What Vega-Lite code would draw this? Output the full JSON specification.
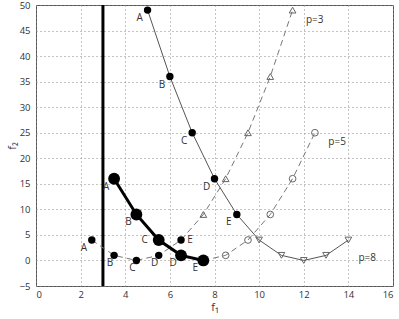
{
  "$schema": "https://vega.github.io/schema/vega-lite/v6.json",
  "width": 357,
  "height": 281,
  "autosize": {"type": "none"},
  "padding": {"left": 36, "top": 5, "right": 6, "bottom": 33},
  "background": "white",
  "config": {
    "view": {"stroke": "#555", "strokeWidth": 1},
    "axis": {
      "domain": false,
      "grid": true,
      "gridDash": [1, 3],
      "gridColor": "#888",
      "gridOpacity": 1,
      "ticks": false,
      "labelFont": "Open Sans",
      "labelFontSize": 9.5,
      "labelColor": "#333",
      "titleFont": "Open Sans",
      "titleFontSize": 11,
      "titleFontWeight": "normal",
      "titleColor": "#334"
    },
    "text": {"font": "Open Sans", "fontSize": 10, "color": "#333"}
  },
  "data": {
    "values": [
      {"s": "p8", "x": 5, "y": 49, "m": "filled", "label": "A"},
      {"s": "p8", "x": 6, "y": 36, "m": "filled", "label": "B"},
      {"s": "p8", "x": 7, "y": 25, "m": "filled", "label": "C"},
      {"s": "p8", "x": 8, "y": 16, "m": "filled", "label": "D"},
      {"s": "p8", "x": 9, "y": 9, "m": "filled", "label": "E"},
      {"s": "p8", "x": 10, "y": 4, "m": "open", "label": ""},
      {"s": "p8", "x": 11, "y": 1, "m": "open", "label": ""},
      {"s": "p8", "x": 12, "y": 0, "m": "open", "label": ""},
      {"s": "p8", "x": 13, "y": 1, "m": "open", "label": ""},
      {"s": "p8", "x": 14, "y": 4, "m": "open", "label": ""},
      {"s": "p3", "x": 2.5, "y": 4, "m": "filled", "label": "A"},
      {"s": "p3", "x": 3.5, "y": 1, "m": "filled", "label": "B"},
      {"s": "p3", "x": 4.5, "y": 0, "m": "filled", "label": "C"},
      {"s": "p3", "x": 5.5, "y": 1, "m": "filled", "label": "D"},
      {"s": "p3", "x": 6.5, "y": 4, "m": "filled", "label": "E"},
      {"s": "p3", "x": 7.5, "y": 9, "m": "open", "label": ""},
      {"s": "p3", "x": 8.5, "y": 16, "m": "open", "label": ""},
      {"s": "p3", "x": 9.5, "y": 25, "m": "open", "label": ""},
      {"s": "p3", "x": 10.5, "y": 36, "m": "open", "label": ""},
      {"s": "p3", "x": 11.5, "y": 49, "m": "open", "label": ""},
      {"s": "p5", "x": 3.5, "y": 16, "m": "big", "label": "A"},
      {"s": "p5", "x": 4.5, "y": 9, "m": "big", "label": "B"},
      {"s": "p5", "x": 5.5, "y": 4, "m": "big", "label": "C"},
      {"s": "p5", "x": 6.5, "y": 1, "m": "big", "label": "D"},
      {"s": "p5", "x": 7.5, "y": 0, "m": "big", "label": "E"},
      {"s": "p5", "x": 8.5, "y": 1, "m": "open", "label": ""},
      {"s": "p5", "x": 9.5, "y": 4, "m": "open", "label": ""},
      {"s": "p5", "x": 10.5, "y": 9, "m": "open", "label": ""},
      {"s": "p5", "x": 11.5, "y": 16, "m": "open", "label": ""},
      {"s": "p5", "x": 12.5, "y": 25, "m": "open", "label": ""}
    ]
  },
  "encoding": {
    "x": {"field": "x", "type": "quantitative", "scale": {"domain": [0, 16], "nice": false}, "axis": {"values": [0, 2, 4, 6, 8, 10, 12, 14, 16], "title": "f₁", "labelPadding": 3, "titlePadding": 3}},
    "y": {"field": "y", "type": "quantitative", "scale": {"domain": [-5, 50], "nice": false, "zero": false}, "axis": {"values": [-5, 0, 5, 10, 15, 20, 25, 30, 35, 40, 45, 50], "title": "f₂", "labelPadding": 6, "titlePadding": 2}}
  },
  "layer": [
    {
      "data": {"values": [{"xv": 3}]},
      "mark": {"type": "rule", "color": "black", "strokeWidth": 3},
      "encoding": {"x": {"field": "xv", "type": "quantitative"}, "y": null}
    },
    {
      "transform": [{"filter": "datum.s == 'p8'"}],
      "mark": {"type": "line", "color": "#555", "strokeWidth": 1}
    },
    {
      "transform": [{"filter": "datum.s == 'p3'"}],
      "mark": {"type": "line", "color": "#777", "strokeWidth": 1, "strokeDash": [6, 4]}
    },
    {
      "transform": [{"filter": "datum.s == 'p5' && datum.x >= 7.5"}],
      "mark": {"type": "line", "color": "#777", "strokeWidth": 1, "strokeDash": [6, 4]}
    },
    {
      "transform": [{"filter": "datum.s == 'p5' && datum.m == 'big'"}],
      "mark": {"type": "line", "color": "black", "strokeWidth": 3}
    },
    {
      "transform": [{"filter": "datum.m == 'filled'"}],
      "mark": {"type": "point", "shape": "circle", "filled": true, "color": "black", "size": 55, "opacity": 1}
    },
    {
      "transform": [{"filter": "datum.m == 'big'"}],
      "mark": {"type": "point", "shape": "circle", "filled": true, "color": "black", "size": 140, "opacity": 1}
    },
    {
      "transform": [{"filter": "datum.m == 'open' && datum.s == 'p3'"}],
      "mark": {"type": "point", "shape": "triangle-up", "filled": false, "color": "#666", "size": 45, "strokeWidth": 1, "opacity": 1}
    },
    {
      "transform": [{"filter": "datum.m == 'open' && datum.s == 'p5'"}],
      "mark": {"type": "point", "shape": "circle", "filled": false, "color": "#666", "size": 45, "strokeWidth": 1, "opacity": 1}
    },
    {
      "transform": [{"filter": "datum.m == 'open' && datum.s == 'p8'"}],
      "mark": {"type": "point", "shape": "triangle-down", "filled": false, "color": "#666", "size": 45, "strokeWidth": 1, "opacity": 1}
    },
    {
      "transform": [{"filter": "datum.label != '' && !(datum.s == 'p5' && datum.label == 'C') && datum.s != 'p3'"}],
      "mark": {"type": "text", "dx": -8, "dy": 8, "align": "center", "baseline": "middle", "color": "#333"},
      "encoding": {"text": {"field": "label"}}
    },
    {
      "transform": [{"filter": "datum.s == 'p3' && datum.label == 'A'"}],
      "mark": {"type": "text", "dx": -8, "dy": 8, "align": "center", "baseline": "middle", "color": "#333"},
      "encoding": {"text": {"field": "label"}}
    },
    {
      "transform": [{"filter": "datum.s == 'p3' && (datum.label == 'B' || datum.label == 'C' || datum.label == 'D')"}],
      "mark": {"type": "text", "dx": -4, "dy": 8, "align": "center", "baseline": "middle", "color": "#333"},
      "encoding": {"text": {"field": "label"}}
    },
    {
      "transform": [{"filter": "datum.s == 'p5' && datum.label == 'C'"}],
      "mark": {"type": "text", "dx": -14, "dy": 0, "align": "center", "baseline": "middle", "color": "#333"},
      "encoding": {"text": {"field": "label"}}
    },
    {
      "transform": [{"filter": "datum.s == 'p3' && datum.label == 'E'"}],
      "mark": {"type": "text", "dx": 9, "dy": 0, "align": "center", "baseline": "middle", "color": "#333"},
      "encoding": {"text": {"field": "label"}}
    },
    {
      "data": {"values": [
        {"x": 12.1, "y": 47, "t": "p=3"},
        {"x": 13.1, "y": 23.2, "t": "p=5"},
        {"x": 14.45, "y": 0.4, "t": "p=8"}
      ]},
      "mark": {"type": "text", "align": "left", "baseline": "middle", "color": "#333"},
      "encoding": {"text": {"field": "t"}}
    }
  ]
}
